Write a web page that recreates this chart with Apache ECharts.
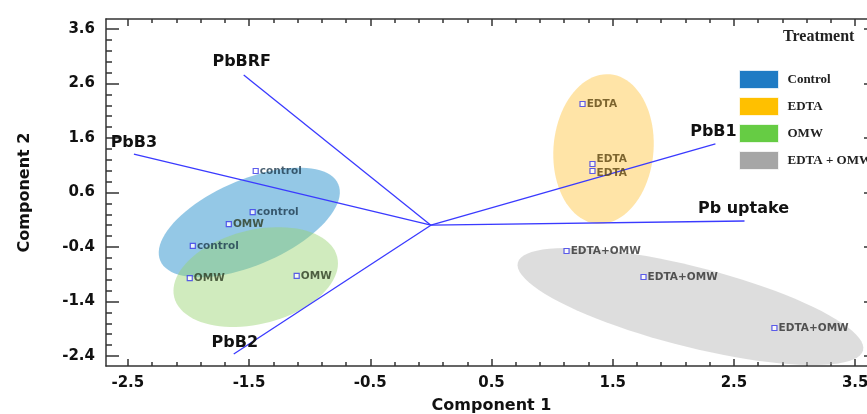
<!DOCTYPE html>
<html>
<head>
<meta charset="utf-8">
<script src="https://cdn.jsdelivr.net/npm/echarts@6/dist/echarts.min.js"></script>
<style>
html, body { margin: 0; padding: 0; background: #fff; }
#main { width: 867px; height: 414px; }
</style>
</head>
<body>
<div id="main"></div>
<script>
// treatments (legend order)
var groups = ['Control', 'EDTA', 'OMW', 'EDTA + OMW'];

// sample scores
var pointLabels = ['control', 'control', 'control', 'OMW', 'OMW', 'OMW', 'EDTA', 'EDTA', 'EDTA', 'EDTA+OMW', 'EDTA+OMW', 'EDTA+OMW'];
var pointX = [-1.445, -1.47, -1.964, -1.667, -1.989, -1.107, 1.251, 1.333, 1.333, 1.119, 1.754, 2.834];
var pointY = [0.994, 0.24, -0.38, 0.02, -0.97, -0.93, 2.224, 1.123, 0.994, -0.473, -0.95, -1.886];

// loadings
var vectorNames = ['PbBRF', 'PbB3', 'PbB2', 'PbB1', 'Pb uptake'];
var vectorX = [-1.544, -2.45, -1.626, 2.347, 2.587];
var vectorY = [2.756, 1.306, -2.363, 1.49, 0.077];

// group ellipses: centre + two half axes (same order as groups)
var ellCx = [-1.498, 1.424, -1.445, 2.141];
var ellCy = [0.050, 1.398, -0.951, -1.492];
var ellAx = [0.734, 0.054, 0.672, 1.424];
var ellAy = [0.703, 1.371, 0.372, -0.804];
var ellBx = [0.139, 0.411, 0.094, -0.081];
var ellBy = [-0.719, -0.081, -0.837, -0.712];

// tick labels
var xTicks = [-2.5, -1.5, -0.5, 0.5, 1.5, 2.5, 3.5];
var yTicks = [-2.4, -1.4, -0.4, 0.6, 1.6, 2.6, 3.6];

var xMin = -2.68, xMax = 3.68;
var yMin = -2.583, yMax = 3.783;

var legendColors = ['#1f7bc4', '#ffc000', '#66cc44', '#a6a6a6'];
var ellFill = ['rgba(41,146,206,0.5)', 'rgba(255,195,60,0.45)', 'rgba(150,210,110,0.45)', 'rgba(180,180,180,0.45)'];
var labelColors = { 'control': '#1d3a4e', 'OMW': '#2c3b22', 'EDTA': '#5c4512', 'EDTA+OMW': '#2e2e2e' };
var vectorLabelOffset = [[-2, -13], [0, -11], [1, -11], [-2, -12], [-1, -12]];
var pointLabelOffset = { 7: [0, -5], 8: [0, 2] };

var axisColor = '#333';

// minor ticks every 0.2 between the major ones
function minorOf(ticks, lo, hi) {
	var out = [];
	for (var v = ticks[0] - 1; v <= ticks[ticks.length - 1] + 1 + 1e-9; v += 0.2) {
		var r = Math.round(v * 10) / 10;
		if (r > lo && r < hi) out.push(r);
	}
	return out;
}
var xMinor = minorOf(xTicks, xMin, xMax);
var yMinor = minorOf(yTicks, yMin, yMax);

function tickAxis(pos, min, max, values, len, withLine) {
	return {
		type: 'value', position: pos, min: min, max: max,
		splitLine: { show: false },
		axisLine: { show: withLine, onZero: false, lineStyle: { color: axisColor, width: 1.5 } },
		axisTick: { show: true, inside: true, length: len, customValues: values, lineStyle: { color: axisColor, width: 1.5 } },
		axisLabel: { show: false },
		nameMoveOverlap: false
	};
}

var xMain = tickAxis('bottom', xMin, xMax, xTicks, 7, true);
xMain.axisLabel = { show: true, customValues: xTicks, margin: 10, fontSize: 15, color: '#111', fontFamily: 'DejaVu Sans', fontWeight: 'bold' };
xMain.name = 'Component 1';
xMain.nameLocation = 'middle';
xMain.nameGap = 32;
xMain.nameTextStyle = { fontSize: 16, color: '#111', fontFamily: 'DejaVu Sans', fontWeight: 'bold' };

var yMain = tickAxis('left', yMin, yMax, yTicks, 13, true);
yMain.axisLabel = { show: true, customValues: yTicks, margin: 11, fontSize: 15, color: '#111', fontFamily: 'DejaVu Sans', fontWeight: 'bold',
	formatter: function (v) { return v.toFixed(1); } };
yMain.name = 'Component 2';
yMain.nameLocation = 'middle';
yMain.nameGap = 73;
yMain.nameTextStyle = { fontSize: 16, color: '#111', fontFamily: 'DejaVu Sans', fontWeight: 'bold' };

var series = [];

// ellipses
groups.forEach(function (g, k) {
	series.push({
		name: g,
		type: 'custom',
		z: 1,
		silent: true,
		itemStyle: { color: legendColors[k] },
		data: [[ellCx[k], ellCy[k]]],
		renderItem: function (params, api) {
			var pts = [];
			for (var i = 0; i < 90; i++) {
				var t = i / 90 * Math.PI * 2;
				pts.push(api.coord([
					ellCx[k] + ellAx[k] * Math.cos(t) + ellBx[k] * Math.sin(t),
					ellCy[k] + ellAy[k] * Math.cos(t) + ellBy[k] * Math.sin(t)
				]));
			}
			return { type: 'polygon', shape: { points: pts }, style: { fill: ellFill[k] } };
		}
	});
});

// loading vectors
vectorNames.forEach(function (n, i) {
	series.push({
		name: 'vec_' + n,
		type: 'line',
		z: 3,
		silent: true,
		symbol: 'none',
		lineStyle: { color: '#3a3aff', width: 1.3 },
		data: [[0, 0], [vectorX[i], vectorY[i]]]
	});
});
// vector names next to the arrow tips
series.push({
	name: 'vecLabels',
	type: 'custom',
	z: 4,
	silent: true,
	data: vectorNames.map(function (n, i) { return [vectorX[i], vectorY[i], i]; }),
	renderItem: function (params, api) {
		var i = api.value(2);
		var p = api.coord([api.value(0), api.value(1)]);
		var off = vectorLabelOffset[i];
		return {
			type: 'text', x: p[0] + off[0], y: p[1] + off[1],
			style: { text: vectorNames[i], font: 'bold 16px "DejaVu Sans"', fill: '#111', align: 'center', verticalAlign: 'middle' }
		};
	}
});

// sample points
series.push({
	name: 'samples',
	type: 'scatter',
	z: 5,
	silent: true,
	symbol: 'rect',
	symbolSize: 5,
	itemStyle: { color: '#fff', borderColor: '#3636e8', borderWidth: 1.2 },
	data: pointLabels.map(function (l, i) {
		return {
			name: l, value: [pointX[i], pointY[i]],
			label: { show: true, position: 'right', distance: 1, formatter: l, offset: pointLabelOffset[i] || [0, 0],
				fontSize: 10.5, color: labelColors[l], fontFamily: 'DejaVu Sans', fontWeight: 'bold' }
		};
	})
});

var myChart = echarts.init(document.getElementById('main'));
var option = {
	animation: false,
	backgroundColor: '#fff',
	title: {
		text: 'Treatment', left: 778, top: 24,
		textStyle: { fontFamily: 'Liberation Serif', fontWeight: 'bold', fontSize: 16, color: '#222' }
	},
	legend: {
		orient: 'vertical', left: 734, top: 65,
		icon: 'rect', itemWidth: 39, itemHeight: 18, itemGap: 8,
		selectedMode: false,
		data: groups.map(function (g, i) {
			return { name: g, itemStyle: { color: legendColors[i], borderColor: 'rgba(255,255,255,0.7)', borderWidth: 1 } };
		}),
		textStyle: { fontFamily: 'Liberation Serif', fontWeight: 'bold', fontSize: 13, color: '#222', padding: [0, 0, 0, 4] }
	},
	grid: { left: 106, top: 19, width: 771, height: 347, containLabel: false, outerBoundsMode: 'none' },
	xAxis: [
		xMain,
		tickAxis('bottom', xMin, xMax, xMinor, 4, false),
		tickAxis('top', xMin, xMax, xTicks, 7, true),
		tickAxis('top', xMin, xMax, xMinor, 4, false)
	],
	yAxis: [
		yMain,
		tickAxis('left', yMin, yMax, yMinor, 6, false),
		tickAxis('right', yMin, yMax, yTicks, 13, true),
		tickAxis('right', yMin, yMax, yMinor, 6, false)
	],
	series: series
};
myChart.setOption(option);
</script>
</body>
</html>
